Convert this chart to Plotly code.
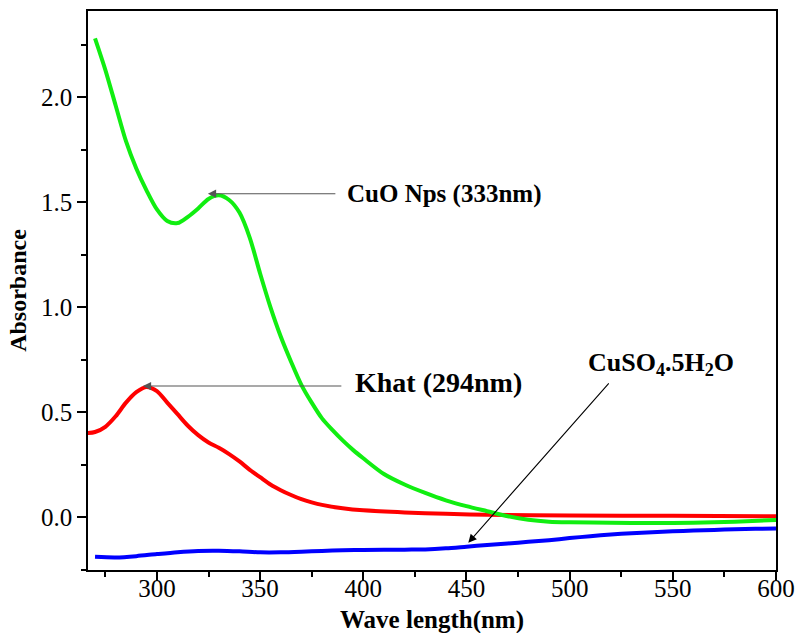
import plotly.graph_objects as go

# CuO nanoparticles (green)
cuo_wl = [270, 275, 280, 285, 290, 295, 300, 305, 310, 315, 320, 325, 330, 335, 340, 345, 350, 355, 360,
          365, 370, 375, 380, 385, 390, 395, 400, 410, 420, 430, 440, 450, 460, 470, 480, 490, 500, 520,
          540, 560, 580, 600]
cuo_abs = [2.28, 2.13, 1.96, 1.79, 1.66, 1.555, 1.465, 1.41, 1.40, 1.43, 1.47, 1.515, 1.532, 1.51, 1.45,
           1.33, 1.16, 1.00, 0.86, 0.74, 0.63, 0.545, 0.47, 0.415, 0.365, 0.32, 0.28, 0.205, 0.155, 0.115,
           0.08, 0.052, 0.028, 0.004, -0.013, -0.022, -0.025, -0.027, -0.028, -0.027, -0.022, -0.014]

# Khat extract (red)
khat_wl = [266.5, 270, 275, 280, 285, 290, 295, 300, 305, 310, 315, 320, 325, 330, 335, 340, 345, 350,
           355, 360, 365, 370, 375, 380, 390, 400, 420, 440, 460, 500, 550, 600]
khat_abs = [0.40, 0.405, 0.43, 0.48, 0.545, 0.595, 0.62, 0.60, 0.545, 0.49, 0.435, 0.39, 0.355, 0.33,
            0.30, 0.265, 0.225, 0.19, 0.155, 0.128, 0.105, 0.085, 0.07, 0.058, 0.042, 0.032, 0.022,
            0.016, 0.011, 0.008, 0.006, 0.004]

# CuSO4.5H2O (blue)
cuso4_wl = [270, 280, 290, 300, 310, 320, 330, 340, 350, 360, 370, 380, 390, 400, 420, 430, 440, 450,
            460, 470, 480, 490, 500, 510, 520, 530, 540, 550, 560, 570, 580, 590, 600]
cuso4_abs = [-0.189, -0.192, -0.186, -0.176, -0.167, -0.161, -0.160, -0.163, -0.168, -0.168, -0.165,
             -0.161, -0.158, -0.157, -0.155, -0.154, -0.149, -0.141, -0.133, -0.126, -0.118, -0.110,
             -0.100, -0.091, -0.083, -0.077, -0.072, -0.068, -0.064, -0.061, -0.058, -0.056, -0.054]

x_ticks = [300, 350, 400, 450, 500, 550, 600]
y_ticks = [0.0, 0.5, 1.0, 1.5, 2.0]

FONT = "Liberation Serif"

fig = go.Figure()
fig.add_trace(go.Scatter(x=cuso4_wl, y=cuso4_abs, mode="lines",
                         line=dict(color="#0000FF", width=4, shape="spline", smoothing=0.8), showlegend=False))
fig.add_trace(go.Scatter(x=khat_wl, y=khat_abs, mode="lines",
                         line=dict(color="#FF0000", width=4, shape="spline", smoothing=0.8), showlegend=False))
fig.add_trace(go.Scatter(x=cuo_wl, y=cuo_abs, mode="lines",
                         line=dict(color="#11EE11", width=4, shape="spline", smoothing=0.8), showlegend=False))

arrows = [
    dict(x=324.7, y=1.540, ax=387.2, ay=1.540, color="#555555"),
    dict(x=293.2, y=0.624, ax=390.1, ay=0.624, color="#555555"),
    dict(x=450.9, y=-0.122, ax=519.6, ay=0.644, color="#000000"),
]
for a in arrows:
    fig.add_annotation(x=a["x"], y=a["y"], ax=a["ax"], ay=a["ay"], xref="x", yref="y", axref="x", ayref="y",
                       text="", showarrow=True, arrowhead=2, arrowsize=1.5, arrowwidth=1.1,
                       arrowcolor=a["color"], standoff=0, startstandoff=0)

labels = [
    dict(x=391.1, y=1.538, text="<b>CuO Nps (333nm)</b>", size=25),
    dict(x=395.0, y=0.643, text="<b>Khat (294nm)</b>", size=28),
    dict(x=507.9, y=0.73, text="<b>CuSO<sub>4</sub>.5H<sub>2</sub>O</b>", size=26),
]
for l in labels:
    fig.add_annotation(x=l["x"], y=l["y"], xref="x", yref="y", text=l["text"], showarrow=False,
                       xanchor="left", yanchor="middle", font=dict(family=FONT, size=l["size"], color="black"))

# x-axis title placed as paper annotation (slightly clipped at the bottom like the reference)
fig.add_annotation(x=0.5, y=-0.089, xref="paper", yref="paper", text="<b>Wave length(nm)</b>",
                   showarrow=False, xanchor="center", yanchor="middle",
                   font=dict(family=FONT, size=25, color="black"))

fig.update_layout(
    width=798, height=633,
    margin=dict(l=88, r=22, t=11, b=63, autoexpand=False),
    plot_bgcolor="white", paper_bgcolor="white",
    font=dict(family=FONT, color="black"),
)
fig.update_xaxes(
    range=[266.6, 600], tickvals=x_ticks, ticks="outside", ticklen=9, tickwidth=1.5, tickcolor="black",
    showline=True, linecolor="black", linewidth=1.5, mirror=True, showgrid=False, zeroline=False,
    automargin=False, tickfont=dict(family=FONT, size=25), ticklabelstandoff=-14,
    minor=dict(ticks="outside", ticklen=5, tickwidth=1.5, tickcolor="black", dtick=25, tick0=275, showgrid=False),
)
fig.update_yaxes(
    range=[-0.252, 2.41], tickvals=y_ticks, tickformat=".1f", ticks="outside", ticklen=9, tickwidth=1.5,
    tickcolor="black", showline=True, linecolor="black", linewidth=1.5, mirror=True, showgrid=False,
    zeroline=False, automargin=False, tickfont=dict(family=FONT, size=25),
    minor=dict(ticks="outside", ticklen=5, tickwidth=1.5, tickcolor="black", dtick=0.25, tick0=0.25, showgrid=False),
    title=dict(text="<b>Absorbance</b>", font=dict(family=FONT, size=24), standoff=8),
)

fig.write_html("out.html")
